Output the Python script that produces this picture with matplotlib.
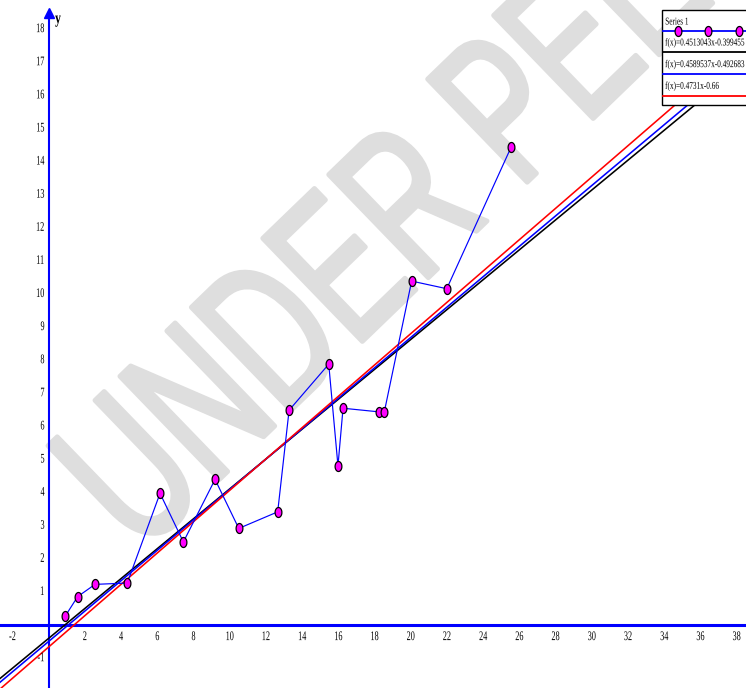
import numpy as np
import matplotlib
matplotlib.use("Agg")
import matplotlib.pyplot as plt
from matplotlib.path import Path
from matplotlib.patches import Rectangle
from matplotlib.lines import Line2D
from matplotlib.transforms import offset_copy, Affine2D
from matplotlib.patheffects import AbstractPathEffect

# --- 1. data ---

# Series 1 (measured points)
series_x = [0.9, 1.6, 2.56, 4.34, 6.15, 7.44, 9.19, 10.5, 12.65,
            13.28, 15.47, 15.98, 16.26, 18.25, 18.54, 20.05, 21.99, 25.54]
series_y = [0.26, 0.86, 1.23, 1.27, 3.98, 2.51, 4.40, 2.92, 3.42,
            6.49, 7.88, 4.81, 6.55, 6.44, 6.44, 10.39, 10.16, 14.43]

# fitted lines f(x) = a*x + b
fit_slopes = [0.4513043, 0.4589537, 0.4731]
fit_intercepts = [-0.399455, -0.492683, -0.66]
fit_labels = ["f(x)=0.4513043x-0.399455",
              "f(x)=0.4589537x-0.492683",
              "f(x)=0.4731x-0.66"]
fit_colors = ["black", "blue", "red"]

x_ticks = [-2, 2, 4, 6, 8, 10, 12, 14, 16, 18, 20, 22, 24, 26, 28, 30, 32, 34, 36, 38]
y_ticks = [-1, 1, 2, 3, 4, 5, 6, 7, 8, 9, 10, 11, 12, 13, 14, 15, 16, 17, 18]

W, H = 746, 688
serif = ["Liberation Serif", "DejaVu Serif"]


class Narrow(AbstractPathEffect):
    """Squeeze glyphs along the text baseline (condensed look).
    Optionally fatten the glyphs with a rounded outline of the same colour."""

    def __init__(self, sx, anchor=0.0, outline=0.0):
        super().__init__()
        self.sx = sx
        self.anchor = anchor
        self.outline = outline

    def draw_path(self, renderer, gc, tpath, affine, rgbFace=None):
        ext = tpath.get_extents()
        cx = ext.x0 + self.anchor * ext.width
        pre = Affine2D().translate(-cx, 0).scale(self.sx, 1).translate(cx, 0)
        if self.outline > 0 and rgbFace is not None:
            gc2 = renderer.new_gc()
            gc2.copy_properties(gc)
            gc2.set_linewidth(self.outline)
            gc2.set_foreground(rgbFace)
            gc2.set_joinstyle("round")
            gc2.set_capstyle("round")
            renderer.draw_path(gc2, tpath, pre + affine, rgbFace)
            gc2.restore()
        else:
            renderer.draw_path(gc, tpath, pre + affine, rgbFace)


# oval marker (taller than wide)
t = np.linspace(0, 2 * np.pi, 41)
oval = Path(np.column_stack([0.68 * np.cos(t), np.sin(t)]))

fig = plt.figure(figsize=(W / 100, H / 100), dpi=100)
ax = fig.add_axes([0, 0, 1, 1])
ax.set_axis_off()
ax.set_xlim(-2.69, 38.52)
ax.set_ylim(-1.9, 18.88)


def fpx(x, y):
    # pixel position -> figure fraction
    return x / W, 1 - y / H


# --- 2. watermark (behind everything) ---
ax.text(*fpx(136, 560), "UNDER PEER REVIEW", transform=fig.transFigure,
        rotation=44, rotation_mode="anchor", ha="left", va="baseline",
        fontsize=150, color="#dedede",
        family=["Liberation Sans", "DejaVu Sans"], zorder=0,
        path_effects=[Narrow(0.66, outline=3.5)])

# --- 3. axes lines and labels ---
ax.axhline(0, color="blue", lw=2.2, zorder=1)
ax.plot([0, 0], [-1.9, 18.4], color="blue", lw=1.5, zorder=1)
ax.plot(0, 18.5, marker="^", color="blue", markersize=7, zorder=1, clip_on=False)
ax.text(0.35, 18.3, "y", family=serif, fontsize=12, fontweight="bold", va="center",
        path_effects=[Narrow(0.7)])

xlab_tr = offset_copy(ax.transData, fig=fig, y=-12, units="dots")
for v in x_ticks:
    ax.text(v, 0, str(v), transform=xlab_tr, ha="center", va="center",
            family=serif, fontsize=9.5, path_effects=[Narrow(0.62, 0.5)])
ylab_tr = offset_copy(ax.transData, fig=fig, x=-4, units="dots")
for v in y_ticks:
    ax.text(0, v, str(v), transform=ylab_tr, ha="right", va="center",
            family=serif, fontsize=9.5, path_effects=[Narrow(0.62, 1.0)])

# --- 4. fitted lines and series ---
xs = np.array(ax.get_xlim())
for a, b, c in zip(fit_slopes, fit_intercepts, fit_colors):
    ax.plot(xs, a * xs + b, color=c, lw=1.15, zorder=2)

ax.plot(series_x, series_y, color="blue", lw=0.85, marker=oval, markersize=7.2,
        markerfacecolor="#ff00ff", markeredgecolor="black", markeredgewidth=0.9,
        zorder=4)

# --- 5. legend box ---
x0, y0 = fpx(662, 105)
x1, y1 = fpx(760, 10)
fig.add_artist(Rectangle((x0, y0), x1 - x0, y1 - y0, transform=fig.transFigure,
                         facecolor="white", edgecolor="black", lw=1.0, zorder=10))

fig.text(*fpx(665, 22), "Series 1", family=serif, fontsize=7.5,
         va="center", ha="left", zorder=11, path_effects=[Narrow(0.7)])
lx, ly = fpx(663, 31)
rx, _ = fpx(746, 31)
fig.add_artist(Line2D([lx, rx], [ly, ly], transform=fig.transFigure,
                      color="blue", lw=1.3, zorder=11))
mx = [fpx(p, 31)[0] for p in (678, 708, 739)]
fig.add_artist(Line2D(mx, [ly] * 3, transform=fig.transFigure, ls="none",
                      marker=oval, markersize=7.2, markerfacecolor="#ff00ff",
                      markeredgecolor="black", markeredgewidth=0.9, zorder=12))

for i, (lab, c) in enumerate(zip(fit_labels, fit_colors)):
    ty = 42.7 + 21.7 * i
    fig.text(*fpx(665, ty), lab, family=serif, fontsize=7.5,
             va="center", ha="left", zorder=11, path_effects=[Narrow(0.7)])
    _, lyy = fpx(0, ty + 9.7)
    fig.add_artist(Line2D([lx, rx], [lyy, lyy], transform=fig.transFigure,
                          color=c, lw=1.3, zorder=11))

fig.savefig("out.png", dpi=100)
